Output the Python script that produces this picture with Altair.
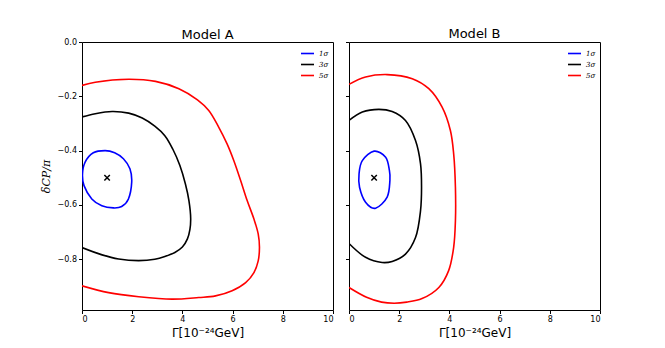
import altair as alt
import pandas as pd

levels = ["1σ", "3σ", "5σ"]
level_colors = ["blue", "black", "red"]
models = ["Model A", "Model B"]

# Model A contours (1σ is a closed loop)
a1_x = [0.92, 1.3, 1.65, 1.91, 1.98, 1.85, 1.58, 1.25, 0.79, 0.39, 0.08, 0.02, 0.12, 0.45]
a1_y = [-0.400, -0.408, -0.43, -0.467, -0.516, -0.578, -0.606, -0.611, -0.603, -0.578, -0.529, -0.486, -0.443, -0.408]
a3_x = [0.0, 0.53, 1.2, 1.86, 2.4, 2.9, 3.3, 3.62, 3.9, 4.12, 4.26, 4.33, 4.3, 4.2, 4.0, 3.7, 3.3, 2.9, 2.26, 1.46, 0.8, 0.0]
a3_y = [-0.276, -0.264, -0.256, -0.262, -0.28, -0.31, -0.345, -0.395, -0.455, -0.523, -0.584, -0.65, -0.69, -0.725, -0.755, -0.775, -0.79, -0.8, -0.805, -0.799, -0.784, -0.757]
a5_x = [0.0, 0.53, 1.86, 2.93, 3.86, 4.6, 5.05, 5.45, 5.78, 6.05, 6.32, 6.58, 6.85, 7.02, 7.07, 7.02, 6.85, 6.52, 5.98, 5.32, 4.65, 3.59, 2.26, 1.06, 0.0]
a5_y = [-0.16, -0.148, -0.137, -0.145, -0.172, -0.213, -0.252, -0.314, -0.375, -0.437, -0.51, -0.584, -0.652, -0.707, -0.756, -0.806, -0.849, -0.886, -0.916, -0.935, -0.941, -0.947, -0.938, -0.923, -0.898]

# Model B contours (1σ is a closed loop)
b1_x = [1.0, 1.46, 1.61, 1.63, 1.52, 1.06, 0.66, 0.42, 0.4, 0.53]
b1_y = [-0.402, -0.424, -0.473, -0.51, -0.571, -0.612, -0.59, -0.535, -0.486, -0.437]
b3_x = [0.0, 0.53, 1.19, 1.72, 2.25, 2.65, 2.85, 2.89, 2.85, 2.65, 2.25, 1.72, 1.32, 0.66, 0.0]
b3_y = [-0.289, -0.258, -0.248, -0.256, -0.289, -0.363, -0.449, -0.535, -0.621, -0.72, -0.781, -0.808, -0.812, -0.793, -0.742]
b5_x = [0.0, 0.66, 1.52, 2.52, 3.18, 3.71, 4.04, 4.17, 4.24, 4.24, 4.17, 3.97, 3.58, 2.91, 2.3, 1.8, 1.3, 0.7, 0.0]
b5_y = [-0.156, -0.129, -0.12, -0.135, -0.172, -0.24, -0.326, -0.412, -0.535, -0.658, -0.756, -0.842, -0.904, -0.945, -0.958, -0.962, -0.958, -0.94, -0.904]

best_x = [1.0]
best_y = [-0.5]

y_ticks = [0.0, -0.2, -0.4, -0.6, -0.8]
x_ticks = [0, 2, 4, 6, 8, 10]
y_min = -0.987

series = {
    "Model A": [(a1_x, a1_y), (a3_x, a3_y), (a5_x, a5_y)],
    "Model B": [(b1_x, b1_y), (b3_x, b3_y), (b5_x, b5_y)],
}
closed_levels = ["1σ"]

XMARK = "M-1,-1L1,1M-1,1L1,-1"


def panel(model, first):
    rows = []
    for lev, (xs, ys) in zip(levels, series[model]):
        for i, (xv, yv) in enumerate(zip(xs, ys)):
            rows.append({"level": lev, "order": i, "x": xv, "y": yv,
                         "closed": lev in closed_levels})
    df = pd.DataFrame(rows)
    yaxis = alt.Axis(values=y_ticks, format=".1f", title="δCP/π" if first else None,
                     labels=first, grid=False, domain=False, tickSize=3.5,
                     labelFontSize=8, titleFontSize=11, titleFont="DejaVu Serif",
                     titleFontStyle="italic", titleFontWeight="normal", titlePadding=6)
    xaxis = alt.Axis(values=x_ticks, title="Γ[10⁻²⁴GeV]", grid=False, domain=False,
                     tickSize=3.5, labelFontSize=8, titleFontSize=12,
                     titleFontWeight="normal", titlePadding=4)
    xs = alt.Scale(domain=[0, 10], nice=False)
    ys = alt.Scale(domain=[y_min, 0], nice=False, zero=False)
    color = alt.Color("level:N", scale=alt.Scale(domain=levels, range=level_colors),
                      legend=alt.Legend(title=None, orient="top-right", symbolType="stroke",
                                        symbolSize=170, symbolStrokeWidth=1.6,
                                        labelFont="DejaVu Serif", labelFontStyle="italic",
                                        labelFontSize=7, rowPadding=0, offset=4,
                                        padding=0))
    base = alt.Chart(df).encode(
        x=alt.X("x:Q", scale=xs, axis=xaxis),
        y=alt.Y("y:Q", scale=ys, axis=yaxis),
        color=color,
        order="order:Q",
        detail="level:N",
    )
    open_lines = base.transform_filter("!datum.closed").mark_line(
        strokeWidth=1.6, clip=True, interpolate="catmull-rom")
    closed_lines = base.transform_filter("datum.closed").mark_line(
        strokeWidth=1.6, clip=True, interpolate="cardinal-closed", tension=0)
    pt = alt.Chart(pd.DataFrame({"x": best_x, "y": best_y})).mark_point(
        shape=XMARK, size=30, stroke="black", strokeWidth=1.5, filled=False, opacity=1
    ).encode(x="x:Q", y="y:Q")
    return (open_lines + closed_lines + pt).properties(
        width=251, height=268,
        title=alt.TitleParams(model, fontSize=13, fontWeight="normal", font="DejaVu Sans",
                              offset=-4 if first else 1),
    )


chart = alt.hconcat(panel("Model A", True), panel("Model B", False), spacing=10).resolve_legend(
    color="independent"
).properties(
    padding={"left": 31, "top": 19, "right": 5, "bottom": 5}
).configure_view(
    stroke="black", strokeWidth=1
).configure_axis(
    tickColor="black", labelColor="black", titleColor="black", labelFont="DejaVu Sans",
    titleFont="DejaVu Sans"
)

chart.save("out.html", embed_options={"renderer": "svg", "actions": False})
